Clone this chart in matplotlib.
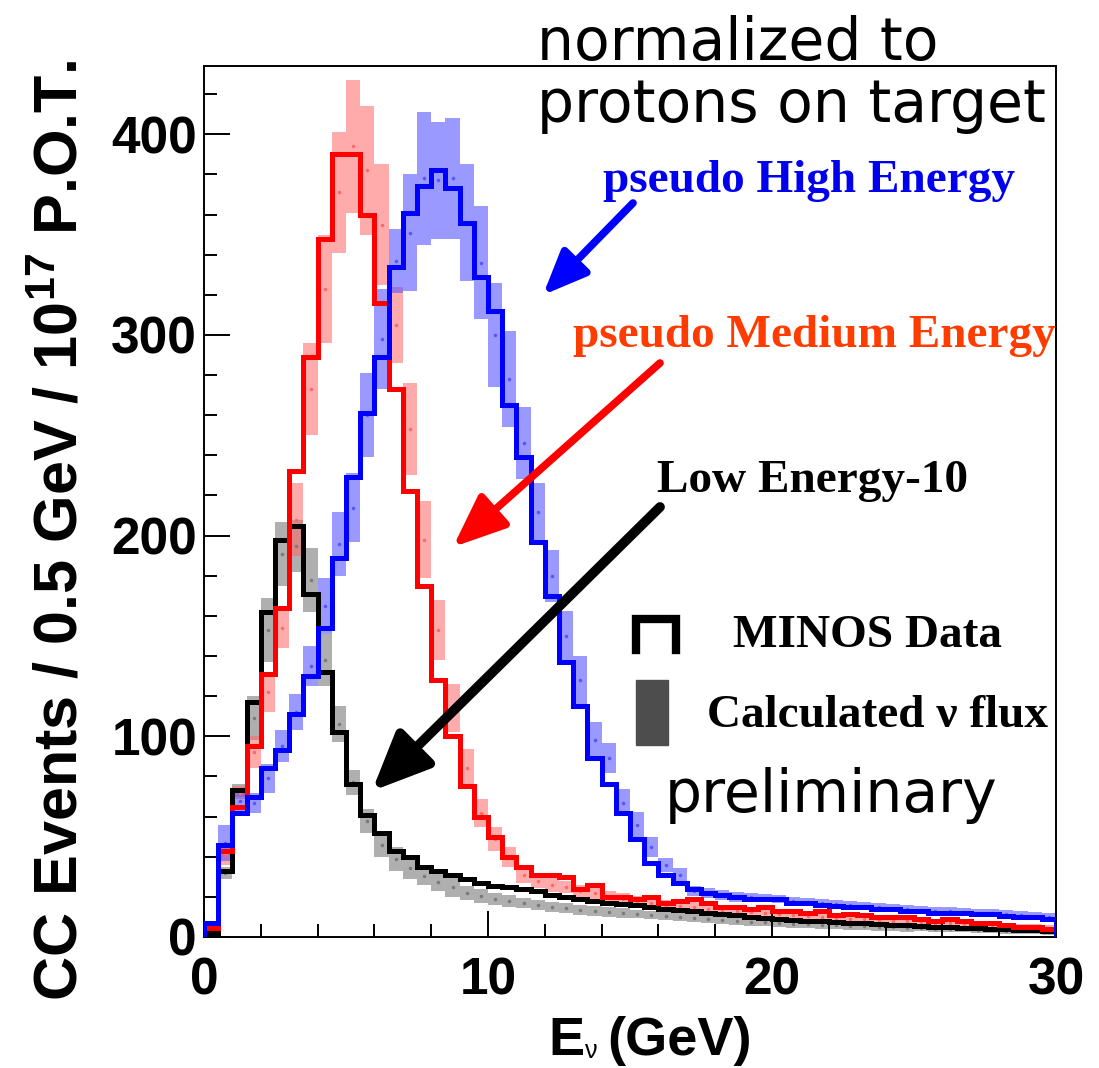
import matplotlib
matplotlib.use("Agg")
import matplotlib.pyplot as plt
import numpy as np
from matplotlib.lines import Line2D
from matplotlib.patches import Rectangle
from matplotlib.ticker import MultipleLocator

plt.rcParams["mathtext.fontset"] = "custom"
plt.rcParams["mathtext.rm"] = "Liberation Sans:bold"
plt.rcParams["mathtext.default"] = "rm"

# 0.5 GeV bins from 0 to 30 GeV
bin_edges = np.arange(0, 30.5, 0.5)

# MINOS data (lines)
low_data = [2, 33, 73, 117, 162, 198, 205, 171, 132, 102, 76, 61, 52, 43, 40, 35, 33, 31, 29, 27,
            25.5, 25, 24, 23, 21, 20, 19, 18, 17, 16.5, 16, 15, 14, 13.5, 13, 12, 11.5, 11, 10, 9.5,
            9, 8.5, 8, 8, 7.5, 7, 7, 6.5, 6, 6, 5.5, 5, 5, 4.5, 4.5, 4, 4, 3.5, 3.5, 3]
med_data = [4.5, 43, 65, 95, 131, 164, 232, 289, 348, 390, 390, 360, 316, 273, 222, 175, 128, 100, 75, 60,
            50, 40, 35, 31, 31, 30, 24, 26, 20, 20, 19, 20, 17, 18, 19, 17, 15, 15, 14, 15,
            13, 13, 12, 13, 11, 11.5, 11, 10, 10, 10, 9, 8, 9, 8, 7, 7, 6, 5, 5, 4]
high_data = [7, 46, 62, 70, 84, 93, 111, 130, 154, 189, 229, 261, 289, 334, 361, 374, 382, 373, 356, 329,
             312, 265, 239, 197, 170, 137, 115, 89, 76, 62, 49, 37, 31, 27, 24, 22, 21, 20, 19, 19,
             19, 17, 17, 16, 15.5, 15, 15, 14, 14, 13, 13, 12, 12, 12, 11.5, 11.5, 10.5, 10, 10, 9]

# calculated flux (band centre and half width)
low_calc = [2, 32, 73, 109, 153, 191, 195, 178, 138, 106, 77, 58, 46, 39, 34.5, 30.5, 27.5, 25, 22, 20.5,
            19, 18, 17, 16, 15, 14.5, 13.5, 13, 12.5, 12, 11.5, 11, 10.5, 10, 9.5, 9, 8.5, 8, 7.5, 7.5,
            7, 6.5, 6.5, 6, 6, 5.5, 5.5, 5, 5, 4.5, 4.5, 4, 4, 4, 3.5, 3.5, 3, 3, 3, 2.5]
low_err = [1, 3, 3, 11, 16, 16, 13, 16, 13, 9, 6, 6, 6, 6, 5.5, 4.5, 4.5, 5, 3.5, 3.5,
           3, 3, 2.5, 2.5, 2.5, 2.5, 2.5, 2.5, 2.5, 2.5, 2, 2, 2, 2, 2, 2, 2, 2, 2, 2,
           2, 2, 2, 2, 2, 2, 2, 2, 2, 2, 1.5, 1.5, 1.5, 1.5, 1.5, 1.5, 1.5, 1.5, 1.5, 1.5]
med_calc = [4, 41, 72, 92, 122, 154, 208, 273, 323, 371, 394, 382, 355, 305, 253, 198, 153, 114, 84, 62,
            49, 40, 31, 28, 26, 25, 23, 22, 20, 19, 18, 17, 16, 15.5, 15, 14, 13.5, 13, 12.5, 12,
            11.5, 11, 10.5, 10, 9.5, 9, 9, 8.5, 8, 8, 7.5, 7, 7, 6.5, 6, 6, 5.5, 5, 5, 4.5]
med_err = [1, 5, 3, 8, 10, 10, 18, 23, 27, 30, 33, 32, 30, 19, 23, 19, 15, 12, 9.5, 7,
           6, 5, 4, 3.5, 3.5, 3, 3, 3, 3, 3, 2.5, 2.5, 2.5, 2.5, 2.5, 2.5, 2.5, 2.5, 2, 2,
           2, 2, 2, 2, 2, 2, 2, 2, 2, 2, 1.5, 1.5, 1.5, 1.5, 1.5, 1.5, 1.5, 1.5, 1.5, 1.5]
high_calc = [7, 47, 68, 67, 79, 95, 112, 135, 165, 196, 214, 260, 298, 337, 351, 378, 377, 378, 356, 336,
             300, 278, 246, 212, 180, 150, 128, 98, 89, 67, 56, 45, 36, 31, 23, 22, 21, 20, 20, 19.5,
             19, 18, 17.5, 17, 16.5, 16, 15.5, 15, 14.5, 14, 13.5, 13, 13, 12.5, 12, 12, 11.5, 11, 10.5, 10]
high_err = [1, 9, 5.5, 5, 7, 8, 9, 10, 14, 16, 17, 21, 25, 16, 29, 33, 29, 30, 29, 28,
            26, 24, 18, 14, 13, 12.5, 12, 9, 7.5, 6.5, 6.5, 5, 3.5, 3.5, 2.5, 2.5, 2.5, 2.5, 2, 2,
            2, 2, 2, 2, 2, 2, 2, 2, 2, 2, 2, 2, 2, 2, 2, 2, 2, 2, 2, 2]

W, H = 1099, 1068


def fpos(x, y):
    # pixel position (from top-left) -> figure fraction
    return x / W, 1 - y / H


fig = plt.figure(figsize=(W / 100, H / 100), dpi=100)
ax = fig.add_axes([204 / W, 1 - 937 / H, (1056 - 204) / W, (937 - 66) / H])

centres = (bin_edges[:-1] + bin_edges[1:]) / 2

bands = [(low_calc, low_err, "#7a7a7a", 0.6),
         (med_calc, med_err, "#ff6666", 0.55),
         (high_calc, high_err, "#5555ff", 0.6)]
for calc, err, col, a in bands:
    calc = np.array(calc)
    err = np.array(err)
    ax.stairs(calc + err, bin_edges, baseline=calc - err, fill=True,
              color=col, alpha=a, lw=0, zorder=1)
    ax.plot(centres, calc, ".", ms=3, color=col, zorder=1.5)

ax.stairs(low_data, bin_edges, color="black", lw=3.6, zorder=2)
ax.stairs(med_data, bin_edges, color="red", lw=3.6, zorder=3)
ax.stairs(high_data, bin_edges, color="blue", lw=3.6, zorder=4)

ax.set_xlim(0, 30)
ax.set_ylim(0, 434)
ax.set_xticks([0, 10, 20, 30])
ax.set_yticks([0, 100, 200, 300, 400])
ax.xaxis.set_minor_locator(MultipleLocator(2))
ax.yaxis.set_minor_locator(MultipleLocator(20))
ax.tick_params(which="both", direction="in", width=1.4, top=False, right=False)
ax.tick_params(which="major", length=18.5)
ax.tick_params(which="minor", length=9.5)
ax.tick_params(axis="y", pad=5)
ax.tick_params(axis="x", pad=14)
for lab in ax.get_xticklabels() + ax.get_yticklabels():
    lab.set_fontfamily("Liberation Sans")
    lab.set_fontweight("bold")
    lab.set_fontsize(37)
for sp in ax.spines.values():
    sp.set_linewidth(1.4)

# axis titles
fig.text(*fpos(62, 531), r"CC Events / 0.5 GeV / 10$^{17}$ P.O.T.", rotation=90,
         ha="center", va="center", fontsize=44, fontweight="bold", family="Liberation Sans")
fig.text(*fpos(585, 1055), "E", ha="right", va="baseline",
         fontsize=39, fontweight="bold", family="Liberation Sans")
fig.text(*fpos(585, 1058), "\u03bd", ha="left", va="baseline",
         fontsize=18, family="Liberation Sans")
fig.text(*fpos(607, 1055), "(GeV)", ha="left", va="baseline",
         fontsize=39, fontweight="bold", family="Liberation Sans")

# annotations
fig.text(*fpos(537, 60), "normalized to", ha="left", va="baseline",
         fontsize=42, family="DejaVu Sans")
fig.text(*fpos(537, 122), "protons on target", ha="left", va="baseline",
         fontsize=42, family="DejaVu Sans")
fig.text(*fpos(603, 192), "pseudo High Energy", ha="left", va="baseline", color="#0000ee",
         fontsize=34, fontweight="bold", family="Liberation Serif")
fig.text(*fpos(573, 347), "pseudo Medium Energy", ha="left", va="baseline", color="#ff3c00",
         fontsize=34, fontweight="bold", family="Liberation Serif")
fig.text(*fpos(657, 492), "Low Energy-10", ha="left", va="baseline", color="black",
         fontsize=34, fontweight="bold", family="Liberation Serif")
fig.text(*fpos(733, 647), "MINOS Data", ha="left", va="baseline",
         fontsize=34, fontweight="bold", family="Liberation Serif")
fig.text(*fpos(707, 727), "Calculated \u03bd flux", ha="left", va="baseline",
         fontsize=34, fontweight="bold", family="Liberation Serif")
fig.text(*fpos(665, 812), "preliminary", ha="left", va="baseline",
         fontsize=42, family="DejaVu Sans")

# legend symbols
xs, ys = zip(*[fpos(636, 650), fpos(636, 619), fpos(676, 619), fpos(676, 650)])
fig.add_artist(Line2D(xs, ys, color="black", lw=6, transform=fig.transFigure,
                      solid_joinstyle="miter"))
x0, y0 = fpos(636, 745)
fig.add_artist(Rectangle((x0, y0), 32 / W, 65 / H, color="#4d4d4d",
                         transform=fig.transFigure))

# arrows
arrows = [((633, 203), (543, 295), "blue", 5.5, 1.9, 0.8),
          ((660, 363), (453, 547), "red", 5.5, 2.3, 0.95),
          ((660, 507), (372, 791), "black", 7, 2.5, 1.1)]
for tail, tip, col, lw, hl, hw in arrows:
    ax.annotate("", xy=fpos(*tip), xycoords="figure fraction",
                xytext=fpos(*tail), textcoords="figure fraction",
                arrowprops=dict(arrowstyle=f"-|>,head_length={hl},head_width={hw}",
                                color=col, lw=lw, shrinkA=0, shrinkB=0,
                                mutation_scale=14), zorder=6)

fig.savefig("out.png", dpi=100)
